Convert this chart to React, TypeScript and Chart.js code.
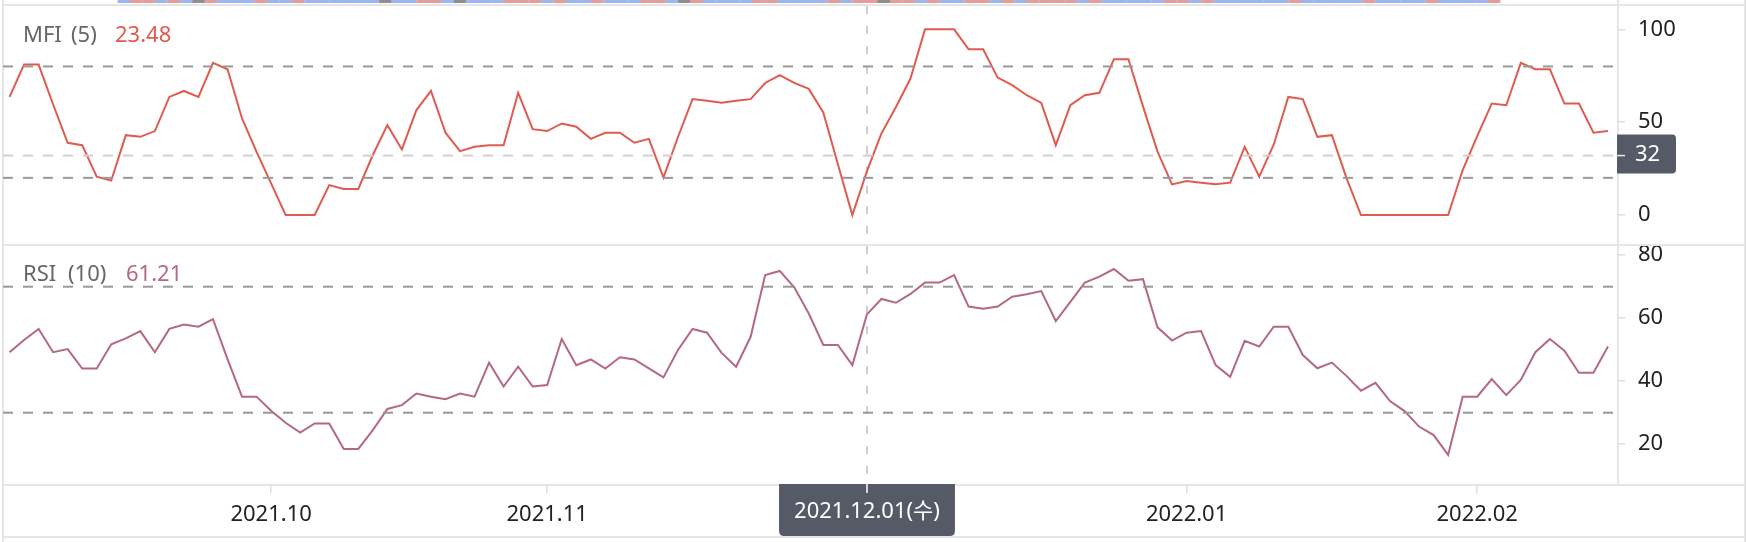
import React, { useEffect, useRef } from 'react';
import { Chart, registerables } from 'chart.js';

Chart.register(...registerables);

// ---- data (one entry per trading day, 2021-09-02 .. 2022-02-16) ----
const mfiValues = [
  63.6, 81.0, 81.0, 59.5, 38.9, 37.6, 20.6, 18.5, 43.0, 42.1,
  45.2, 63.6, 66.8, 63.6, 81.9, 78.5, 52.0, 34.0, 17.0, 0,
  0, 0, 16.1, 14.0, 14.0, 32.3, 48.4, 35.3, 56.5, 66.8,
  44.3, 34.4, 36.7, 37.6, 37.6, 65.8, 46.2, 45.2, 49.3, 47.5,
  41.0, 44.3, 44.3, 38.9, 41.0, 20.1, 42.0, 62.4, 61.5, 60.4,
  61.5, 62.4, 71.1, 75.3, 71.1, 67.9, 55.2, 27.5, 0, 23.48,
  43.9, 58.2, 73.5, 100, 100, 100, 89.2, 89.2, 74.0, 69.9,
  64.5, 60.4, 37.6, 59.1, 64.5, 65.8, 83.9, 83.9, 58.5, 34.1,
  16.5, 18.3, 17.4, 16.5, 17.4, 36.7, 20.6, 38.0, 63.6, 62.4,
  42.1, 43.0, 20.0, 0, 0, 0, 0, 0, 0, 0,
  24.2, 42.5, 60.0, 59.1, 81.9, 78.5, 78.5, 60.0, 60.0, 44.3,
  45.2,
];

const rsiValues = [
  49.2, 53.1, 56.6, 49.2, 50.2, 44.0, 44.0, 51.7, 53.6, 55.9,
  49.2, 56.6, 58.0, 57.3, 59.7, 47.0, 35.1, 35.1, 30.6, 26.8,
  23.7, 26.6, 26.6, 18.5, 18.5, 24.5, 31.2, 32.4, 36.1, 35.1,
  34.3, 36.1, 35.1, 45.9, 38.3, 44.6, 38.3, 38.8, 53.4, 45.1,
  46.9, 44.0, 47.6, 46.9, 44.1, 41.2, 49.9, 56.6, 55.4, 49.0,
  44.6, 54.1, 73.7, 75.0, 69.8, 61.5, 51.5, 51.5, 45.1, 61.21,
  66.1, 64.9, 67.7, 71.3, 71.3, 73.7, 63.7, 63.0, 63.7, 66.8,
  67.6, 68.6, 59.1, 65.2, 71.3, 73.2, 75.6, 71.9, 72.4, 57.1,
  52.9, 55.4, 55.9, 45.1, 41.4, 52.8, 51.0, 57.3, 57.3, 48.3,
  44.1, 45.9, 41.7, 37.0, 39.5, 33.7, 30.5, 25.6, 22.9, 16.6,
  35.1, 35.1, 40.7, 35.6, 40.4, 49.2, 53.4, 49.7, 42.7, 42.7,
  51.0,
];

// candle direction per day: U = up, D = down, F = flat
const candleDirections = [
  'D', 'U', 'U', 'D', 'U', 'D', 'F', 'U', 'D', 'D',
  'D', 'U', 'D', 'D', 'U', 'D', 'D', 'D', 'D', 'D',
  'D', 'F', 'D', 'D', 'U', 'U', 'D', 'F', 'D', 'D',
  'D', 'U', 'U', 'U', 'D', 'U', 'D', 'D', 'U', 'D',
  'D', 'D', 'U', 'U', 'D', 'F', 'U', 'D', 'D', 'D',
  'D', 'U', 'U', 'D', 'D', 'D', 'D', 'U', 'D', 'U',
  'U', 'F', 'U', 'U', 'D', 'U', 'D', 'D', 'U', 'U',
  'D', 'U', 'D', 'U', 'U', 'U', 'U', 'D', 'U', 'D',
  'D', 'D', 'D', 'D', 'U', 'U', 'D', 'U', 'D', 'D',
  'D', 'D', 'D', 'D', 'U', 'D', 'D', 'D', 'D', 'D',
  'U', 'D', 'D', 'D', 'D', 'U', 'D', 'D', 'D', 'D',
  'U',
];

const monthTickIndex = [18, 37, 59, 81, 101];
const monthTickLabels = ['2021.10', '2021.11', '2021.12', '2022.01', '2022.02'];
const mfiTicks = [0, 50, 100];
const rsiTicks = [20, 40, 60, 80];
const mfiLevels = [80, 20];
const rsiLevels = [70, 30];
const crosshairIndex = 59;
const crosshairDateLabel = '2021.12.01(수)';
const crosshairMfiValue = 32;
const mfiName = ['MFI', '(5)'];
const rsiName = ['RSI', '(10)'];

// ---- styling ----
const FONT = "'Noto Sans', 'Noto Sans CJK KR', sans-serif";
const MFI_COLOR = '#e05b4f';
const RSI_COLOR = '#b56980';
const LEVEL_COLOR = '#999999';
const CROSS_COLOR = '#cfcfcf';
const BORDER = '#e6e6e6';
const BOX_COLOR = '#555a66';
const X_MIN = -0.45;
const X_MAX = 110.62;
const W = 1748;
const AXIS_W = 131;

const dirColor: Record<string, string> = { U: '#e59d9a', D: '#9db6ef', F: '#8f8f8f' };

function hLine(v: number, color: string) {
  return {
    data: [{ x: X_MIN, y: v }, { x: X_MAX, y: v }],
    borderColor: color,
    borderWidth: 2,
    borderDash: [10, 10],
    pointRadius: 0,
  };
}

function vCross(chart: any) {
  const { ctx, chartArea, scales } = chart;
  const x = Math.round(scales.x.getPixelForValue(crosshairIndex));
  ctx.save();
  ctx.strokeStyle = CROSS_COLOR;
  ctx.lineWidth = 2;
  ctx.setLineDash([8, 12]);
  ctx.beginPath();
  ctx.moveTo(x, chartArea.top);
  ctx.lineTo(x, chartArea.bottom);
  ctx.stroke();
  ctx.restore();
}

function yAxis(min: number, max: number, ticks: number[]) {
  return {
    position: 'right',
    min,
    max,
    afterBuildTicks: (s: any) => { s.ticks = ticks.map((v) => ({ value: v })); },
    afterFit: (s: any) => { s.width = AXIS_W; s.paddingTop = 0; s.paddingBottom = 0; },
    grid: { drawOnChartArea: false, drawTicks: true, tickLength: 8, color: '#dedede', lineWidth: 1.5 },
    border: { display: false },
    ticks: { padding: 13, color: '#222', font: { family: FONT, size: 22 } },
  };
}

function pathRound(ctx: any, x: number, y: number, w: number, h: number, r: number[]) {
  const [tl, tr, br, bl] = r;
  ctx.beginPath();
  ctx.moveTo(x + tl, y);
  ctx.lineTo(x + w - tr, y);
  ctx.quadraticCurveTo(x + w, y, x + w, y + tr);
  ctx.lineTo(x + w, y + h - br);
  ctx.quadraticCurveTo(x + w, y + h, x + w - br, y + h);
  ctx.lineTo(x + bl, y + h);
  ctx.quadraticCurveTo(x, y + h, x, y + h - bl);
  ctx.lineTo(x, y + tl);
  ctx.quadraticCurveTo(x, y, x + tl, y);
  ctx.closePath();
}

export default function App() {
  const stripRef = useRef<HTMLCanvasElement>(null);
  const mfiRef = useRef<HTMLCanvasElement>(null);
  const rsiRef = useRef<HTMLCanvasElement>(null);

  useEffect(() => {
    const charts: Chart[] = [];

    charts.push(new Chart(stripRef.current as HTMLCanvasElement, {
      type: 'bar',
      data: {
        datasets: [{
          data: candleDirections.map((d, i) => ({ x: i, y: [0, 1] })) as any,
          backgroundColor: candleDirections.map((d) => dirColor[d]),
          barThickness: 12,
        }],
      },
      options: {
        responsive: false,
        animation: false,
        events: [],
        layout: { padding: { left: 3, right: AXIS_W, top: 0, bottom: 0 } },
        plugins: { legend: { display: false }, tooltip: { enabled: false } },
        scales: {
          x: { type: 'linear', min: X_MIN, max: X_MAX, display: false },
          y: { min: 0, max: 1, display: false },
        },
      } as any,
    }));

    charts.push(new Chart(mfiRef.current as HTMLCanvasElement, {
      type: 'line',
      data: {
        datasets: [
          ...mfiLevels.map((v) => hLine(v, LEVEL_COLOR)),
          hLine(crosshairMfiValue, CROSS_COLOR),
          {
            data: mfiValues.map((v, i) => ({ x: i, y: v })),
            borderColor: MFI_COLOR,
            borderWidth: 2,
            pointRadius: 0,
            tension: 0,
          },
        ] as any,
      },
      options: {
        responsive: false,
        animation: false,
        events: [],
        layout: { padding: { left: 3, right: 0, top: 0, bottom: 0 } },
        plugins: { legend: { display: false }, tooltip: { enabled: false } },
        scales: {
          x: { type: 'linear', min: X_MIN, max: X_MAX, display: false },
          y: yAxis(-15.62, 112.55, mfiTicks),
        },
      } as any,
      plugins: [{
        id: 'mfiCross',
        beforeDatasetsDraw: (chart: any) => vCross(chart),
        afterDraw: (chart: any) => {
          const { ctx, chartArea, scales } = chart;
          const y = scales.y.getPixelForValue(crosshairMfiValue);
          const left = chartArea.right;
          const w = 59;
          const h = 39;
          const top = y - h / 2 - 1.5;
          ctx.save();
          ctx.fillStyle = BOX_COLOR;
          pathRound(ctx, left, top, w, h, [0, 4, 4, 0]);
          ctx.fill();
          ctx.strokeStyle = '#e8e8e8';
          ctx.lineWidth = 1.5;
          ctx.beginPath();
          ctx.moveTo(left, y);
          ctx.lineTo(left + 8, y);
          ctx.stroke();
          ctx.fillStyle = '#ffffff';
          ctx.font = `22px ${FONT}`;
          ctx.textAlign = 'center';
          ctx.textBaseline = 'middle';
          ctx.fillText(String(crosshairMfiValue), left + w / 2 + 1, y - 1);
          ctx.restore();
        },
      }],
    }));

    charts.push(new Chart(rsiRef.current as HTMLCanvasElement, {
      type: 'line',
      data: {
        datasets: [
          ...rsiLevels.map((v) => hLine(v, LEVEL_COLOR)),
          {
            data: rsiValues.map((v, i) => ({ x: i, y: v })),
            borderColor: RSI_COLOR,
            borderWidth: 2,
            pointRadius: 0,
            tension: 0,
          },
        ] as any,
      },
      options: {
        responsive: false,
        animation: false,
        events: [],
        layout: { padding: { left: 3, right: 0, top: 0, bottom: 0 } },
        plugins: { legend: { display: false }, tooltip: { enabled: false } },
        scales: {
          x: {
            type: 'linear',
            min: X_MIN,
            max: X_MAX,
            position: 'bottom',
            afterBuildTicks: (s: any) => { s.ticks = monthTickIndex.map((v) => ({ value: v })); },
            afterFit: (s: any) => { s.height = 53; s.paddingLeft = 0; s.paddingRight = 0; },
            grid: { drawOnChartArea: false, drawTicks: true, tickLength: 9, color: '#dedede', lineWidth: 1.5 },
            border: { display: false },
            ticks: {
              autoSkip: false,
              maxRotation: 0,
              padding: 9,
              color: '#222',
              font: { family: FONT, size: 22 },
              callback: (_v: any, i: number) => monthTickLabels[i],
            },
          },
          y: yAxis(7.37, 82.92, rsiTicks),
        },
      } as any,
      plugins: [{
        id: 'rsiCross',
        beforeDatasetsDraw: (chart: any) => vCross(chart),
        afterDraw: (chart: any) => {
          const { ctx, chartArea, scales, height } = chart;
          const cx = Math.round(scales.x.getPixelForValue(crosshairIndex));
          ctx.save();
          ctx.font = `22px ${FONT}`;
          const tw = ctx.measureText(crosshairDateLabel).width;
          const w = tw + 30;
          const top = chartArea.bottom;
          const h = height - 1 - top;
          ctx.fillStyle = BOX_COLOR;
          pathRound(ctx, cx - w / 2, top, w, h, [0, 0, 5, 5]);
          ctx.fill();
          ctx.strokeStyle = '#ffffff';
          ctx.lineWidth = 1.5;
          ctx.beginPath();
          ctx.moveTo(cx, top);
          ctx.lineTo(cx, top + 9);
          ctx.stroke();
          ctx.fillStyle = '#ffffff';
          ctx.textAlign = 'center';
          ctx.textBaseline = 'middle';
          ctx.fillText(crosshairDateLabel, cx, top + 28);
          ctx.restore();
        },
      }],
    }));

    return () => charts.forEach((c) => c.destroy());
  }, []);

  const line = (style: React.CSSProperties) => (
    <div style={{ position: 'absolute', background: BORDER, ...style }} />
  );
  const txt = (text: string, left: number, top: number, color: string) => (
    <span style={{ position: 'absolute', left, top, fontFamily: FONT, fontSize: 22, lineHeight: '22px', color, whiteSpace: 'nowrap' }}>{text}</span>
  );

  return (
    <div style={{ position: 'fixed', left: 0, top: 0, width: W, height: 542, background: '#fff', overflow: 'hidden' }}>
      {line({ left: 2, top: 0, width: 2, height: 542 })}
      {line({ left: 1744, top: 0, width: 2, height: 542 })}
      {line({ left: 1617, top: 0, width: 2, height: 486 })}
      {line({ left: 2, top: 4, width: 1744, height: 2 })}
      {line({ left: 2, top: 244, width: 1744, height: 2 })}
      {line({ left: 2, top: 484, width: 1744, height: 2 })}
      {line({ left: 2, top: 536, width: 1744, height: 2 })}
      <canvas ref={stripRef} width={W} height={3} style={{ position: 'absolute', left: 0, top: 0 }} />
      <canvas ref={mfiRef} width={W} height={238} style={{ position: 'absolute', left: 0, top: 6 }} />
      <canvas ref={rsiRef} width={W} height={291} style={{ position: 'absolute', left: 0, top: 246 }} />
      {txt(mfiName[0], 23, 22, '#666')}
      {txt(mfiName[1], 71, 22, '#666')}
      {txt(mfiValues[crosshairIndex].toFixed(2), 115, 22, MFI_COLOR)}
      {txt(rsiName[0], 23, 261, '#666')}
      {txt(rsiName[1], 68, 261, '#666')}
      {txt(rsiValues[crosshairIndex].toFixed(2), 126, 261, RSI_COLOR)}
    </div>
  );
}
